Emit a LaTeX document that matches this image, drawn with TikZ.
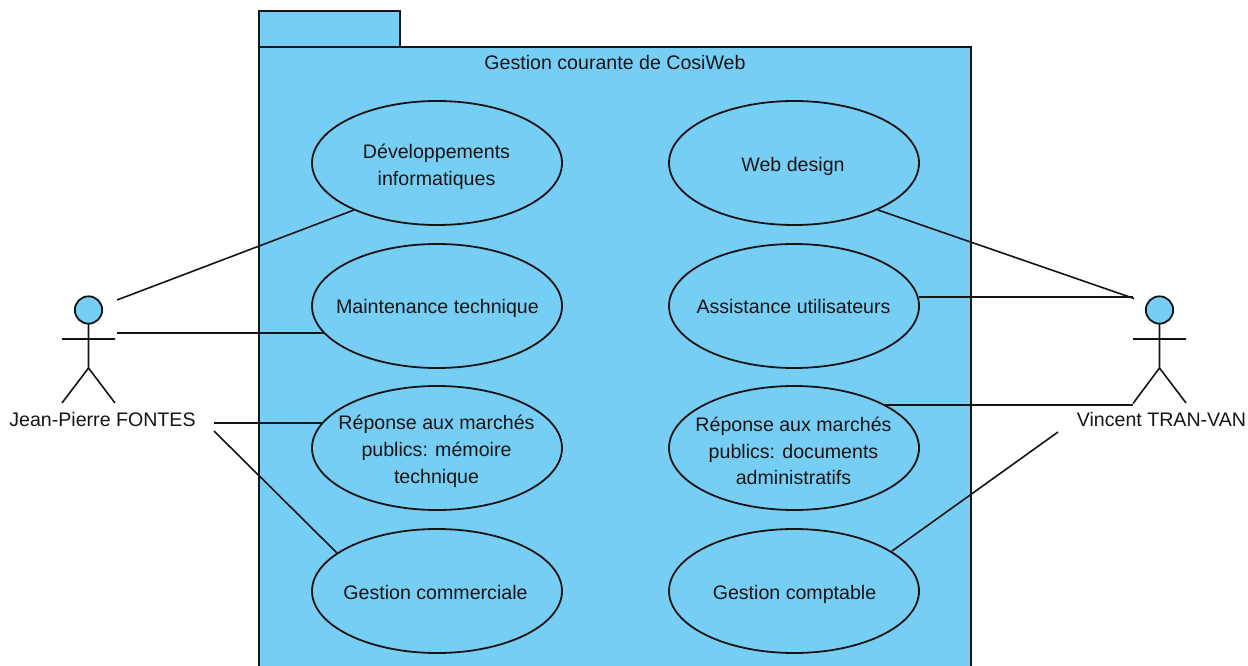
\documentclass[tikz,border=0pt]{standalone}
\usepackage{fontspec}
\setmainfont{Liberation Sans}
\usetikzlibrary{shapes.geometric}
\definecolor{umlblue}{HTML}{77CEF5}
\definecolor{umlink}{HTML}{141414}
\tikzset{
  usecase/.style={ellipse,draw=umlink,fill=umlblue,line width=1.35pt,minimum width=187.5pt,minimum height=93pt,inner sep=0pt,outer sep=0pt},
  txt/.style={inner sep=0pt,font=\fontsize{14.7}{20.1}\selectfont,text=umlink,align=center},
  txtbase/.style={txt,anchor=base},
  pkgline/.style={draw=umlink,fill=umlblue,line width=1.35pt},
  assoc/.style={draw=umlink,line width=1.2pt},
  stick/.style={draw=umlink,line width=1.2pt},
  head/.style={circle,draw=umlink,fill=umlblue,line width=1.35pt,minimum size=20.5pt,inner sep=0pt,outer sep=0pt}
}
\begin{document}
\begin{tikzpicture}[x=0.75pt,y=-0.75pt]
\useasboundingbox (0,0) rectangle (1248,666);
% package
\path[pkgline] (259,11) rectangle (400,47);
\path[pkgline] (259,666.5) -- (259,47) -- (971,47) -- (971,666.5);
\node[txt] (title) at (615,62) {Gestion courante de CosiWeb};
% actors
\node[head] (h1) at (88.5,310) {};
\coordinate (hip1) at (88.5,368);
\coordinate (al1) at (62,339); \coordinate (ar1) at (115,339);
\coordinate (ll1) at (62,403); \coordinate (lr1) at (115,403);
\draw[stick] (h1.south) -- (hip1) (al1) -- (ar1) (ll1) -- (hip1) -- (lr1);
\node[txt] (jp) at (102.5,419) {Jean-Pierre FONTES};
\node[head] (h2) at (1159.5,310) {};
\coordinate (hip2) at (1159.5,368);
\coordinate (al2) at (1133,339); \coordinate (ar2) at (1186,339);
\coordinate (ll2) at (1133,403.5); \coordinate (lr2) at (1186,403);
\draw[stick] (h2.south) -- (hip2) (al2) -- (ar2) (ll2) -- (hip2) -- (lr2);
\node[txt] (vt) at (1161.5,419) {Vincent TRAN-VAN};
% use cases
\node[usecase] (dev) at (437,163) {};
\node[usecase] (maint) at (437,306) {};
\node[usecase] (rep1) at (437,448) {};
\node[usecase] (com) at (437,591) {};
\node[usecase] (web) at (794,163) {};
\node[usecase] (assist) at (794,306) {};
\node[usecase] (rep2) at (794,448) {};
\node[usecase] (compta) at (794,591) {};
\node[txt] (tdev) at (436.5,167) {Développements\\informatiques};
\node[txtbase] (tmaint) at (437.5,314) {Maintenance technique};
\node[txt] (trep1) at (436.5,451.5) {Réponse aux marchés\\publics: mémoire\\technique};
\node[txtbase] (tcom) at (435.5,599) {Gestion commerciale};
\node[txtbase] (tweb) at (793,172) {Web design};
\node[txtbase] (tassist) at (793.5,314) {Assistance utilisateurs};
\node[txt] (trep2) at (793.5,451) {Réponse aux marchés\\publics: documents\\administratifs};
\node[txtbase] (tcompta) at (794.5,599) {Gestion comptable};
% connector free ends
\coordinate (a1) at (117,300);
\coordinate (a2) at (117,333);
\coordinate (a3) at (214,423);
\coordinate (a4) at (214,431);
\coordinate (b1) at (1134,298.5);
\coordinate (b2) at (1133,297);
\coordinate (b3) at (1133,405);
\coordinate (b4) at (1058,432);
% connectors
\draw[assoc] (a1) -- ([shift={(-83,47)}]dev.center);
\draw[assoc] (a2) -- ([shift={(-112.5,27)}]maint.center);
\draw[assoc] (a3) -- ([shift={(-114,-25)}]rep1.center);
\draw[assoc] (a4) -- ([shift={(-100,-38)}]com.center);
\draw[assoc] (b1) -- ([shift={(84,47)}]web.center);
\draw[assoc] (b2) -- ([shift={(124.5,-9)}]assist.center);
\draw[assoc] (b3) -- ([shift={(91,-43)}]rep2.center);
\draw[assoc] (b4) -- ([shift={(98,-40)}]compta.center);
\end{tikzpicture}
\end{document}
